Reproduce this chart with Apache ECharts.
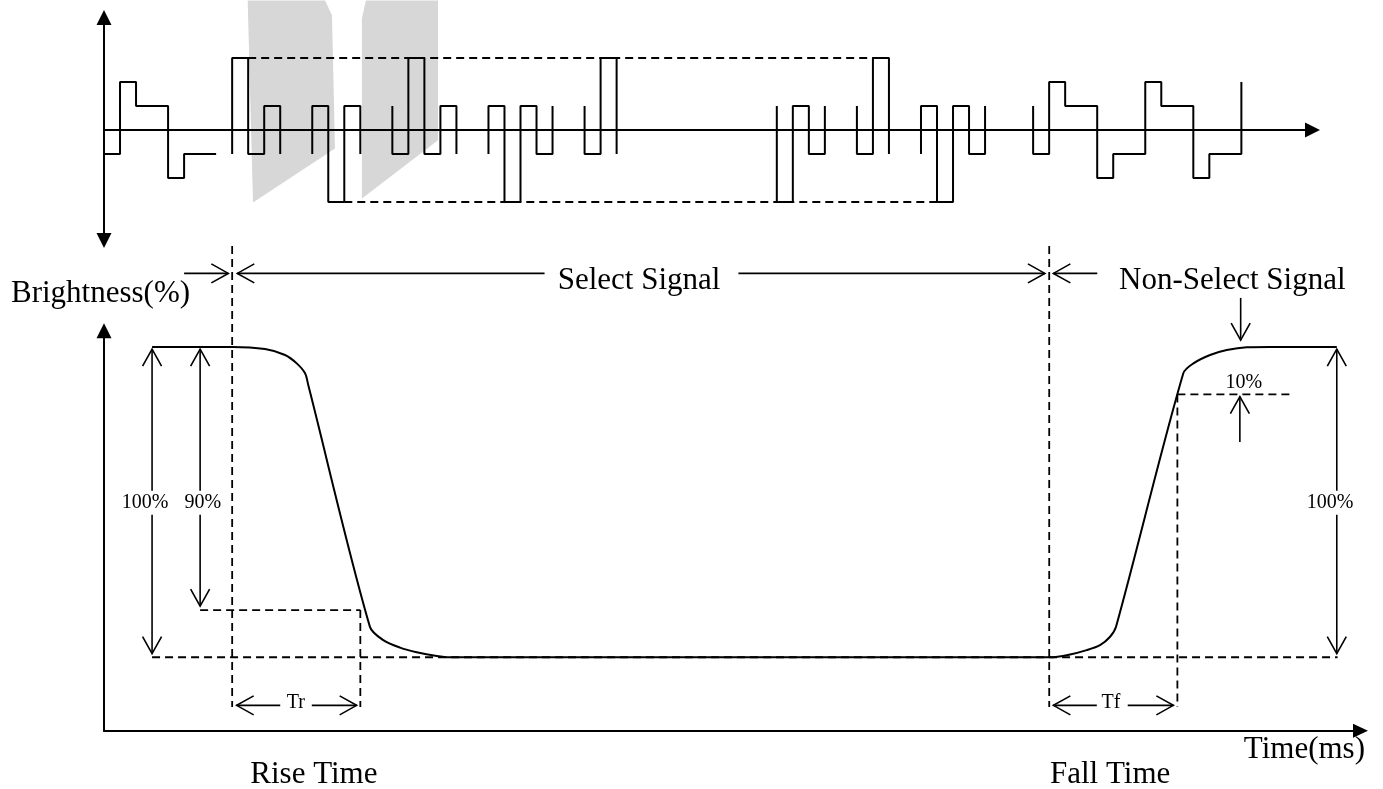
<!DOCTYPE html>
<html><head><meta charset="utf-8">
<script src="https://cdn.jsdelivr.net/npm/echarts@6/dist/echarts.min.js"></script>
<style>html,body{margin:0;padding:0;background:#fff}#c{width:1383px;height:789px}</style>
</head><body><div id="c"></div>
<script>
// ---------- TOP: drive signal (time in slots, level in voltage steps) ----------
const signalBursts = [
  [[0,-1],[1,-1],[1,2],[2,2],[2,1],[4,1],[4,-2],[5,-2],[5,-1],[7,-1]],
  [[8,-1],[8,3],[9,3],[9,-1],[10,-1],[10,1],[11,1],[11,-1]],
  [[13,-1],[13,1],[14,1],[14,-3],[15,-3],[15,1],[16,1],[16,-1]],
  [[18,1],[18,-1],[19,-1],[19,3],[20,3],[20,-1],[21,-1],[21,1],[22,1],[22,-1]],
  [[24,-1],[24,1],[25,1],[25,-3],[26,-3],[26,1],[27,1],[27,-1],[28,-1],[28,1]],
  [[30,1],[30,-1],[31,-1],[31,3],[32,3],[32,-1]],
  [[42,1],[42,-3],[43,-3],[43,1],[44,1],[44,-1],[45,-1],[45,1]],
  [[47,1],[47,-1],[48,-1],[48,3],[49,3],[49,-1]],
  [[51,-1],[51,1],[52,1],[52,-3],[53,-3],[53,1],[54,1],[54,-1],[55,-1],[55,1]],
  [[58,1],[58,-1],[59,-1],[59,2],[60,2],[60,1],[62,1],[62,-2],[63,-2],[63,-1],[65,-1],[65,2],[66,2],[66,1],[68,1],[68,-2],[69,-2],[69,-1],[71,-1],[71,2]]
];
// dashed envelope lines [x1,y1,x2,y2]
const signalEnvelope = [[9,3,48,3],[15,-3,52,-3]];
// grey background shapes
const shadeA = [[8.97,5.4],[13.8,5.4],[14.23,4.78],[14.42,-0.77],[9.3,-3.02]];
const shadeB = [[16.35,5.4],[20.85,5.4],[20.85,-0.43],[16.1,-2.85],[16.1,4.65]];

// ---------- BOTTOM: brightness response (time, brightness %) ----------
const brightnessCurve = [[3,100],[8,100],[10.05,99.3],[11.3,97.4],[12.03,94.7],[12.55,91.5],[12.75,87.7],
  [16.6,9.8],[17.43,5.5],[18.48,3.1],[19.52,1.6],[20.77,0.4],[21.6,0],[59.05,0],[60.3,0.9],[61.34,2.3],
  [62.17,3.9],[62.8,6.6],[63.17,9.8],[67.37,91.5],[68.0,94.7],[69.04,97.4],[70.08,99.0],[71.33,99.9],[72.78,100],[76.95,100]];
// dashed reference lines [x1,y1,x2,y2]
const refLines = [[8,132.5,8,-16],[59,132.5,59,-16],[3,0,77,0],[6,15.2,16,15.2],[16,15.2,16,-16],[67,84.7,67,-16],[67,84.7,74,84.7]];
// arrows [tailX,tailY,tipX,tipY,doubleHeaded]
const arrows = [
  [5,123.7,7.76,123.7,0],[27.5,123.7,8.32,123.7,0],[39.6,123.7,58.73,123.7,0],[62.0,123.7,59.26,123.7,0],
  [3,99.3,3,1.2,1],[6,99.3,6,16.5,1],[76.95,99.3,76.95,1.2,1],
  [70.95,115.8,70.95,102.2,0],[70.9,69.4,70.9,84.0,0],
  [11,-15.5,8.28,-15.5,0],[12.97,-15.5,15.77,-15.5,0],[61.97,-15.5,59.26,-15.5,0],[63.9,-15.5,66.75,-15.5,0]
];
const labelText = ['Select Signal','Non-Select Signal','100%','90%','100%','10%','Tr','Tf','Rise Time','Fall Time','Time(ms)'];
const labelPos = [[33.4,121.2],[70.43,121.2],[2.56,49.8],[6.17,49.8],[76.53,49.8],[71.15,88.3],[11.97,-14.8],[62.85,-14.8],[13.1,-38.0],[62.8,-38.0],[78.71,-29.9]];
const labelBig = [1,1,0,0,0,0,0,0,1,1,1];
const labelOnLine = [0,0,1,1,1,0,0,0,0,0,0];
const labelAlign = ['center','center','center','center','center','center','center','center','center','center','right'];

const SERIF = "'Liberation Serif','Times New Roman',serif";
const chart = echarts.init(document.getElementById('c'), null, {renderer:'canvas'});

function axis(extra){return Object.assign({type:'value',splitLine:{show:false},axisTick:{show:false},axisLabel:{show:false}},extra);}
function segRender(dash,w){return function(p,api){const a=api.coord([api.value(0),api.value(1)]),b=api.coord([api.value(2),api.value(3)]);
  return {type:'line',shape:{x1:a[0],y1:a[1],x2:b[0],y2:b[1]},style:{stroke:'#000',lineWidth:w,lineDash:dash,fill:null}};};}
function head(tip,from){const dx=tip[0]-from[0],dy=tip[1]-from[1],L=Math.hypot(dx,dy)||1,ux=dx/L,uy=dy/L,len=17,hw=9.5;
  return {type:'polyline',shape:{points:[[tip[0]-ux*len-uy*hw,tip[1]-uy*len+ux*hw],[tip[0],tip[1]],[tip[0]-ux*len+uy*hw,tip[1]-uy*len-ux*hw]]},style:{stroke:'#000',fill:null,lineWidth:1.6}};}

const series = [];
series.push({type:'custom',xAxisIndex:0,yAxisIndex:0,clip:false,silent:true,z:0,data:[0],
  renderItem:function(p,api){return {type:'group',children:[shadeA,shadeB].map(function(s){return {type:'polygon',shape:{points:s.map(function(q){return api.coord(q);})},style:{fill:'#d7d7d7',stroke:null}};})};}});
signalBursts.forEach(function(b){series.push({type:'line',xAxisIndex:0,yAxisIndex:0,data:b,symbol:'none',clip:false,z:3,lineStyle:{color:'#000',width:2},silent:true});});
series.push({type:'custom',xAxisIndex:0,yAxisIndex:0,clip:false,silent:true,z:2,data:signalEnvelope,renderItem:segRender([8,5],1.8)});
series.push({type:'custom',xAxisIndex:1,yAxisIndex:1,clip:false,silent:true,z:2,data:refLines,renderItem:segRender([8,5],1.8)});
series.push({type:'line',xAxisIndex:1,yAxisIndex:1,data:brightnessCurve,symbol:'none',smooth:0.3,clip:false,z:3,lineStyle:{color:'#000',width:2},silent:true});
series.push({type:'custom',xAxisIndex:1,yAxisIndex:1,clip:false,silent:true,z:4,data:arrows,
  renderItem:function(p,api){const a=api.coord([api.value(0),api.value(1)]),b=api.coord([api.value(2),api.value(3)]);
    const ch=[{type:'line',shape:{x1:a[0],y1:a[1],x2:b[0],y2:b[1]},style:{stroke:'#000',lineWidth:1.6}},head(b,a)];
    if(api.value(4))ch.push(head(a,b));return {type:'group',children:ch};}});
series.push({type:'custom',xAxisIndex:1,yAxisIndex:1,clip:false,silent:true,z:6,data:labelPos.map(function(q,i){return [q[0],q[1],i];}),
  renderItem:function(p,api){const i=api.value(2),c=api.coord([api.value(0),api.value(1)]),big=labelBig[i];
    return {type:'text',x:c[0],y:c[1],style:{text:labelText[i],fontFamily:SERIF,fontSize:big?31:20,fill:'#000',align:labelAlign[i],verticalAlign:'middle',
      backgroundColor:labelOnLine[i]?'#fff':null,padding:labelOnLine[i]?[2,1]:0}};}});

chart.setOption({
  animation:false,
  backgroundColor:'#fff',
  grid:[{left:104,top:17.44,width:1208.5,height:222.96,outerBoundsMode:'none'},{left:104,top:330.8,width:1256.5,height:400,outerBoundsMode:'none'}],
  xAxis:[
    axis({gridIndex:0,min:0,max:75.44,axisLine:{onZero:true,symbol:['none','triangle'],symbolSize:[15,15],lineStyle:{color:'#000',width:2}}}),
    axis({gridIndex:1,min:0,max:78.43,
      axisLine:{onZero:false,symbol:['none','triangle'],symbolSize:[14,15],lineStyle:{color:'#000',width:2}}})
  ],
  yAxis:[
    axis({gridIndex:0,min:-4.6,max:4.69,axisLine:{onZero:true,symbol:['triangle','triangle'],symbolSize:[15,15],lineStyle:{color:'#000',width:2}}}),
    axis({gridIndex:1,min:-23.7,max:105.2,name:'Brightness(%)',nameLocation:'end',nameGap:36.6,
      nameTextStyle:{fontFamily:SERIF,fontSize:31,color:'#000',align:'center',verticalAlign:'middle',padding:[0,7,0,0]},
      axisLine:{onZero:true,symbol:['none','triangle'],symbolSize:[15,15],lineStyle:{color:'#000',width:2}}})
  ],
  series:series
});
</script></body></html>
